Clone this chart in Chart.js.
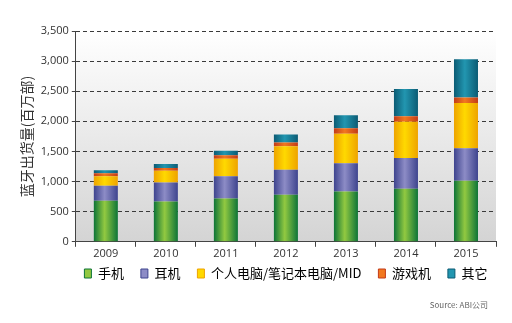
<!DOCTYPE html>
<html>
<head>
<meta charset="utf-8">
<script src="https://cdn.jsdelivr.net/npm/chart.js@4/dist/chart.umd.min.js"></script>
<style>
  body { margin: 0; background: #ffffff; }
  #wrap { width: 512px; height: 323px; position: relative; }
  #source {
    position: absolute; right: 24px; top: 299px;
    font: 8px 'Noto Sans CJK SC', 'Open Sans', sans-serif; color: #666;
  }
</style>
</head>
<body>
<div id="wrap"><canvas id="main-chart"></canvas><div id="source">Source: ABI公司</div></div>
<script>
// values (millions of units)
const years = ["2009", "2010", "2011", "2012", "2013", "2014", "2015"];
const phone   = [680, 670, 720, 780, 835, 880, 1015];
const headset = [250, 315, 370, 415, 470, 510, 540];
const pc      = [160, 195, 290, 390, 490, 605, 750];
const gaming  = [50, 45, 55, 65, 90, 90, 90];
const other   = [50, 65, 75, 130, 215, 450, 635];
const y_ticks = [0, 500, 1000, 1500, 2000, 2500, 3000, 3500];

const font_family = "'Open Sans', 'Noto Sans CJK SC', sans-serif";
const cjk_font = "'Noto Sans CJK SC', 'Open Sans', sans-serif";

// edge colour, centre colour
const colors = {
    phone:   ["#0d7437", "#92c941"],
    headset: ["#3e448e", "#8d8cc6"],
    pc:      ["#eea300", "#ffd900"],
    gaming:  ["#c33b18", "#f2781f"],
    other:   ["#0b5b74", "#2296b0"]
};

function barGradient(pair)
{
    return function(ctx) {
        if (ctx.type !== "data") return pair[1];
        const chart = ctx.chart;
        const xs = chart.scales.x;
        if (!xs || !chart.chartArea) return pair[1];
        const cx = xs.getPixelForValue(ctx.dataIndex);
        const half = (xs.width / years.length) * 0.4 / 2;
        const g = chart.ctx.createLinearGradient(cx - half, 0, cx + half, 0);
        g.addColorStop(0, pair[0]);
        g.addColorStop(0.45, pair[1]);
        g.addColorStop(1, pair[0]);
        return g;
    };
}

// plot area background: white at top fading to light grey
const bgPlugin = {
    id: "plotBg",
    beforeDraw(chart) {
        const a = chart.chartArea;
        const c = chart.ctx;
        const g = c.createLinearGradient(0, a.top, 0, a.bottom);
        g.addColorStop(0, "#ffffff");
        g.addColorStop(1, "#d4d4d4");
        c.save();
        c.fillStyle = g;
        c.fillRect(a.left, a.top, a.right - a.left, a.bottom - a.top);
        c.restore();
    }
};

// centre the legend under the plot area and pull it up closer to the axis
const legendShift = {
    id: "legendShift",
    afterLayout(chart) {
        const l = chart.legend;
        const a = chart.chartArea;
        const dx = (a.left + a.right) / 2 - (l.left + l.right) / 2;
        l.left += dx;
        l.right += dx;
        l.top -= 10;
        l.bottom -= 10;
    }
};

function makeSet(label, data, pair)
{
    return {
        label: label,
        data: data,
        backgroundColor: barGradient(pair),
        borderWidth: 0,
        categoryPercentage: 1,
        barPercentage: 0.4
    };
}

const chart = new Chart(document.getElementById("main-chart"), {
    type: "bar",
    data: {
        labels: years,
        datasets: [
            makeSet("手机", phone, colors.phone),
            makeSet("耳机", headset, colors.headset),
            makeSet("个人电脑/笔记本电脑/MID", pc, colors.pc),
            makeSet("游戏机", gaming, colors.gaming),
            makeSet("其它", other, colors.other)
        ]
    },
    options: {
        responsive: true,
        maintainAspectRatio: false,
        animation: false,
        layout: { padding: { top: 31, right: 16, left: 14, bottom: 23 } },
        plugins: {
            tooltip: { enabled: false },
            legend: {
                position: "bottom",
                labels: {
                    boxWidth: 7,
                    boxHeight: 9,
                    padding: 17,
                    color: "#222",
                    font: { family: cjk_font, size: 13 },
                    generateLabels(chart) {
                        return chart.data.datasets.map((ds, i) => ({
                            text: ds.label,
                            fillStyle: Object.values(colors)[i][1],
                            strokeStyle: Object.values(colors)[i][0],
                            lineWidth: 1,
                            datasetIndex: i
                        }));
                    }
                }
            }
        },
        scales: {
            x: {
                stacked: true,
                offset: true,
                border: { color: "#444", width: 1 },
                grid: { display: true, drawOnChartArea: false, offset: true, tickLength: 5, color: "#444" },
                ticks: { color: "#333", font: { family: font_family, size: 11 }, padding: 0 }
            },
            y: {
                stacked: true,
                min: 0,
                max: 3500,
                border: { color: "#444", width: 1, dash: [4, 3] },
                afterBuildTicks(axis) {
                    axis.ticks = y_ticks.map(v => ({ value: v }));
                },
                grid: {
                    color: "#3a3a3a",
                    tickColor: "#444",
                    tickLength: 4,
                    tickBorderDash: [],
                    lineWidth: 1
                },
                ticks: {
                    color: "#333",
                    font: { family: font_family, size: 11 },
                    padding: 3,
                    callback: v => v.toLocaleString("en-US")
                },
                title: {
                    display: true,
                    text: "蓝牙出货量(百万部)",
                    color: "#333",
                    font: { family: cjk_font, size: 14 },
                    padding: { bottom: 3 }
                }
            }
        }
    },
    plugins: [bgPlugin, legendShift]
});
</script>
</body>
</html>
